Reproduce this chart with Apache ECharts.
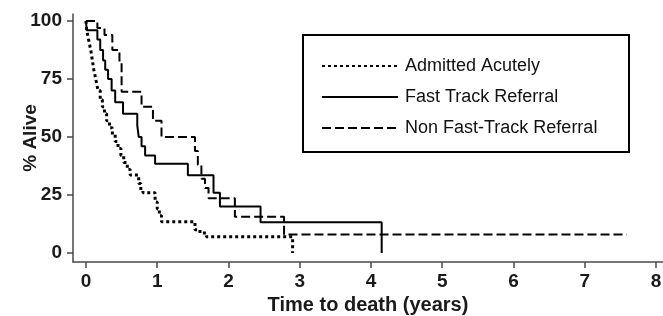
<!DOCTYPE html>
<html>
<head>
<meta charset="utf-8">
<script src="https://cdn.jsdelivr.net/npm/echarts@6/dist/echarts.min.js"></script>
<style>html,body{margin:0;padding:0;background:#fff;}#c{width:663px;height:316px;}</style>
</head>
<body>
<div id="c"></div>
<script>
// Kaplan-Meier step data (time in years, % alive)
const acuteTimes = [0,0.01,0.03,0.05,0.07,0.09,0.11,0.13,0.15,0.17,0.2,0.23,0.26,0.29,0.33,0.37,0.41,0.45,0.49,0.53,0.58,0.62,0.74,0.77,0.8,0.97,1.0,1.03,1.06,1.53,1.6,1.69,2.9];
const acuteSurv  = [100,96,93,90,87,83,79,76,73,70,66,63,60,57,54,51,48,45,42,39,36,33.6,30,27,26,22,19,16,13.5,10,8.6,7,0];
const fastTimes = [0,0.01,0.16,0.2,0.24,0.27,0.31,0.36,0.41,0.52,0.72,0.74,0.78,0.83,0.97,1.43,1.79,1.88,2.45,4.15];
const fastSurv  = [100,96,92,87.5,83,79,75,70,65,60,55,50,46,42,38.5,33.5,26,20,13.3,0];
const nonFastTimes = [0,0.16,0.26,0.37,0.47,0.5,0.78,0.94,1.06,1.53,1.57,1.62,1.67,1.72,2.09,2.78,7.59];
const nonFastSurv  = [100,97,94,87.5,82.5,69.5,63,57,50,44,38,32,28,23.6,15.6,8,8];
const xTicks = [0,1,2,3,4,5,6,7,8];
const yTicks = [0,25,50,75,100];
const seriesNames = ['Admitted Acutely','Fast Track Referral','Non Fast-Track Referral'];

function zip(a,b){return a.map((t,i)=>[t,b[i]]);}

const chart = echarts.init(document.getElementById('c'), null, {renderer:'canvas'});
const axisColor = '#4a4a4a';
const FF = 'Liberation Sans, Arial, sans-serif';
const labelFont = {fontFamily:FF, fontWeight:'bold', fontSize:19, color:'#1a1a1a'};
chart.setOption({
  animation:false,
  backgroundColor:'#ffffff',
  color:['#000','#000','#000'],
  grid:{left:73, top:14, right:0, bottom:54, containLabel:false, outerBoundsMode:'none'},
  xAxis:{
    type:'value', min:-0.182, max:8.098,
    axisLine:{show:true, onZero:false, lineStyle:{color:axisColor, width:1.5}},
    axisTick:{show:true, length:6, customValues:xTicks, lineStyle:{color:axisColor, width:1.5}},
    axisLabel:Object.assign({margin:10, customValues:xTicks, showMinLabel:true, showMaxLabel:true}, labelFont),
    splitLine:{show:false},
    name:'Time to death (years)', nameLocation:'middle', nameGap:33, nameMoveOverlap:false,
    nameTextStyle:{fontFamily:FF, fontWeight:'bold', fontSize:20, color:'#1a1a1a'}
  },
  yAxis:{
    type:'value', min:-3.88, max:103.0,
    axisLine:{show:true, onZero:false, lineStyle:{color:axisColor, width:1.5}},
    axisTick:{show:true, length:6, customValues:yTicks, lineStyle:{color:axisColor, width:1.5}},
    axisLabel:Object.assign({margin:11, customValues:yTicks}, labelFont),
    splitLine:{show:false},
    name:'% Alive', nameLocation:'middle', nameGap:33, nameRotate:90, nameMoveOverlap:false,
    nameTextStyle:{fontFamily:FF, fontWeight:'bold', fontSize:19, color:'#1a1a1a'}
  },
  legend:{
    orient:'vertical', left:316, top:52, itemWidth:76, itemHeight:18, itemGap:13,
    data:seriesNames,
    itemStyle:{color:'transparent', borderWidth:0, opacity:0},
    textStyle:{fontFamily:FF, fontSize:18, color:'#111', padding:[0,0,0,2]}
  },
  graphic:[{type:'rect', shape:{x:303, y:35, width:326, height:117}, style:{fill:'none', stroke:'#000', lineWidth:2}, z:10}],
  series:[
    {name:seriesNames[0], type:'line', step:'end', symbol:'none', data:zip(acuteTimes, acuteSurv),
     itemStyle:{color:'#000'}, lineStyle:{color:'#000', width:3, type:[3,3], cap:'butt'}},
    {name:seriesNames[1], type:'line', step:'end', symbol:'none', data:zip(fastTimes, fastSurv),
     itemStyle:{color:'#000'}, lineStyle:{color:'#000', width:2, type:'solid'}},
    {name:seriesNames[2], type:'line', step:'end', symbol:'none', data:zip(nonFastTimes, nonFastSurv),
     itemStyle:{color:'#000'}, lineStyle:{color:'#000', width:2, type:[9,4]}}
  ]
});
</script>
</body>
</html>
